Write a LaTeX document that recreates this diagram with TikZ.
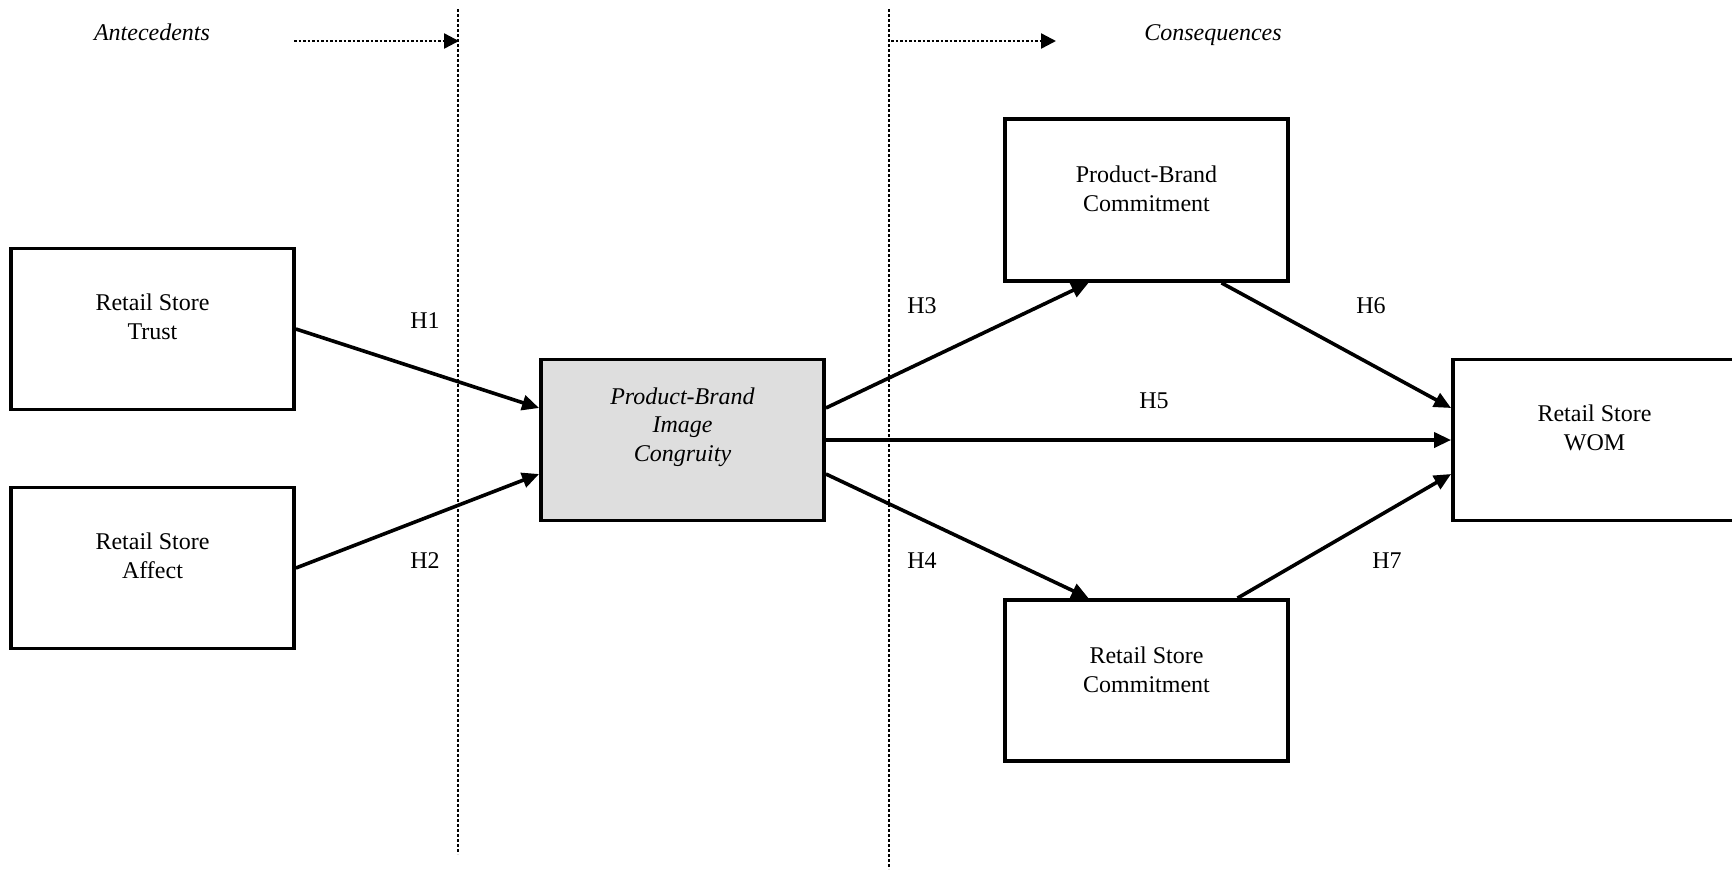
\documentclass[tikz,border=0pt]{standalone}
\usepackage{fontspec}
\setmainfont{Liberation Serif}
\usetikzlibrary{arrows.meta}
\begin{document}
\begin{tikzpicture}[x=1pt,y=-1pt,
  every node/.style={font=\fontsize{24}{28.7}\selectfont},
  box/.style={draw=black, line width=3.8pt, minimum width=283pt, minimum height=161pt, inner sep=0pt, fill=white},
  boxtext/.style={align=center},
  conn/.style={line width=3.6pt, -{Triangle[length=17pt,width=15pt]}},
  dotline/.style={line width=2.6pt, dash pattern=on 2.8pt off 2.2pt},
  dotarrow/.style={line width=2.4pt, dash pattern=on 2.5pt off 2pt, -{Triangle[length=15pt,width=15pt]}},
  hlab/.style={}
]
\useasboundingbox (0,0) rectangle (1732,871);
\clip (0,0) rectangle (1732,871);
\fill[white] (0,0) rectangle (1732,871);

% dotted separators
\coordinate (v1t) at (458,9);
\coordinate (v1b) at (458,854);
\coordinate (v2t) at (889,9);
\coordinate (v2b) at (889,869);
\draw[dotline] (v1t) -- (v1b);
\draw[dotline] (v2t) -- (v2b);

% headings
\node[font=\fontsize{24}{28.7}\selectfont\itshape, anchor=base] (ante) at (152,40) {Antecedents};
\node[font=\fontsize{24}{28.7}\selectfont\itshape, anchor=base] (cons) at (1213,40) {Consequences};
\coordinate (a1s) at (294,41);
\coordinate (a1e) at (459,41);
\coordinate (a2s) at (891,41);
\coordinate (a2e) at (1056,41);
\draw[dotarrow] (a1s) -- (a1e);
\draw[dotarrow] (a2s) -- (a2e);

% boxes
\node[box] (trust) at (152.5,329) {};
\node[boxtext] at ([yshift=12pt]trust.center) {Retail Store\\Trust};
\node[box] (affect) at (152.5,568) {};
\node[boxtext] at ([yshift=12pt]affect.center) {Retail Store\\Affect};
\node[box, fill=black!13] (cong) at (682.5,440) {};
\node[boxtext, font=\fontsize{24}{28.7}\selectfont\itshape] at ([yshift=13pt]cong.center) {Product-Brand\\Image\\Congruity};
\node[box, minimum height=162pt] (pbc) at (1146.5,200) {};
\node[boxtext] at ([yshift=11pt]pbc.center) {Product-Brand\\Commitment};
\node[box] (rsc) at (1146.5,680.5) {};
\node[boxtext] at ([yshift=11pt]rsc.center) {Retail Store\\Commitment};
\node[box, minimum width=307pt] (wom) at (1606.5,440) {};
\node[boxtext] at (1594.5,428) {Retail Store\\WOM};

% connectors
\draw[conn] (trust.east) -- ([yshift=32pt]cong.west);
\draw[conn] (affect.east) -- ([yshift=-34pt]cong.west);
\draw[conn] ([yshift=32pt]cong.east) -- ([xshift=-58pt]pbc.south);
\draw[conn] (cong.east) -- (wom.west);
\draw[conn] ([yshift=-34pt]cong.east) -- ([xshift=-58pt]rsc.north);
\draw[conn] ([xshift=75pt]pbc.south) -- ([yshift=32pt]wom.west);
\draw[conn] ([xshift=91pt]rsc.north) -- ([yshift=-34pt]wom.west);

% hypothesis labels
\node[hlab] (h1) at (425,321) {H1};
\node[hlab] (h2) at (425,561) {H2};
\node[hlab] (h3) at (922,306) {H3};
\node[hlab] (h4) at (922,561) {H4};
\node[hlab] (h5) at (1154,401) {H5};
\node[hlab] (h6) at (1371,306) {H6};
\node[hlab] (h7) at (1387,561) {H7};
\end{tikzpicture}
\end{document}
